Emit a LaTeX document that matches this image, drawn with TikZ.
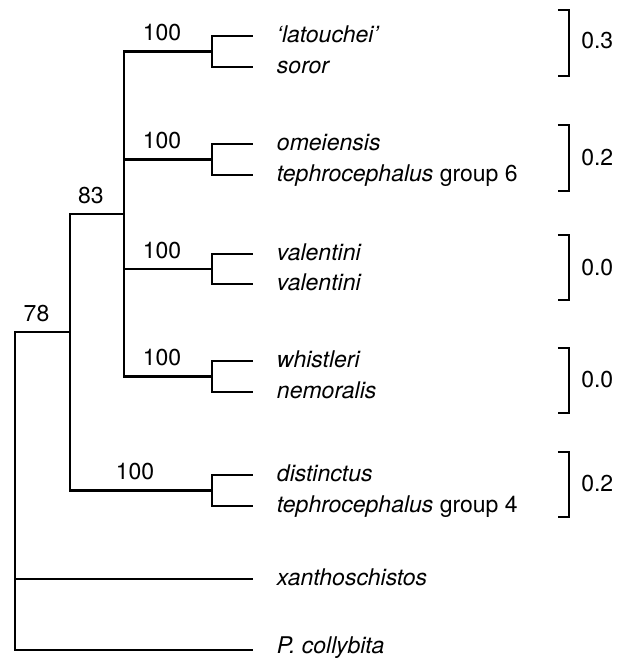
\documentclass[tikz,border=0pt]{standalone}
\usepackage{fontspec}
\setmainfont{TeX Gyre Heros}
\usepackage{tikz}
\usetikzlibrary{positioning}

\begin{document}
\begin{tikzpicture}[
    x=0.5pt, y=-0.5pt,
    every node/.style={font=\fontsize{11.5}{13}\selectfont},
    branch/.style={line width=1.3pt},
    taxon/.style={anchor=west, inner xsep=12pt, inner ysep=0pt, outer sep=0pt,
                  text height=6pt, text depth=0pt},
    support/.style={above=1.5pt, inner sep=3pt, xshift=-3pt},
    bracket/.style={line width=1.3pt},
    dist/.style={right=2pt, inner sep=3.5pt},
]
\useasboundingbox (0,0) rectangle (624,661);

% --- Taxa (tips) ---
\node[taxon] (lat) at (253,36)  {\textit{‘latouchei’}};
\node[taxon] (sor) at (253,67)  {\textit{soror}};
\node[taxon] (ome) at (253,144) {\textit{omeiensis}};
\node[taxon] (te6) at (253,175) {\textit{tephrocephalus} group 6};
\node[taxon] (va1) at (253,254) {\textit{valentini}};
\node[taxon] (va2) at (253,284) {\textit{valentini}};
\node[taxon] (whi) at (253,361) {\textit{whistleri}};
\node[taxon] (nem) at (253,392) {\textit{nemoralis}};
\node[taxon] (dis) at (253,475) {\textit{distinctus}};
\node[taxon] (te4) at (253,506) {\textit{tephrocephalus} group 4};
\node[taxon] (xan) at (253,579) {\textit{xanthoschistos}};
\node[taxon, text height=3.5pt] (col) at (253,650) {\textit{P. collybita}};

% --- Internal nodes ---
\coordinate (c1) at (212,51.5);
\coordinate (c2) at (212,159.5);
\coordinate (c3) at (212,269);
\coordinate (c4) at (212,376.5);
\coordinate (c5) at (212,490.5);
\coordinate (n83) at (124,214);
\coordinate (n78) at (70,332);
\coordinate (root) at (15,492);

% --- Branches ---
\draw[branch] (c1) |- (lat.west);
\draw[branch] (c1) |- (sor.west);
\draw[branch] (c2) |- (ome.west);
\draw[branch] (c2) |- (te6.west);
\draw[branch] (c3) |- (va1.west);
\draw[branch] (c3) |- (va2.west);
\draw[branch] (c4) |- (whi.west);
\draw[branch] (c4) |- (nem.west);
\draw[branch] (c5) |- (dis.west);
\draw[branch] (c5) |- (te4.west);

\draw[branch] (n83) |- (c1) node[pos=0.75, support] {100};
\draw[branch] (n83) |- (c2) node[pos=0.75, support] {100};
\draw[branch] (n83) |- (c3) node[pos=0.75, support] {100};
\draw[branch] (n83) |- (c4) node[pos=0.75, support] {100};

\draw[branch] (n78) |- (n83) node[pos=0.75, support] {83};
\draw[branch] (n78) |- (c5)  node[pos=0.75, support] {100};

\draw[branch] (root) |- (n78) node[pos=0.75, support] {78};
\draw[branch] (root) |- (xan.west);
\draw[branch] (root) |- (col.west);

% --- Distance brackets ---
\draw[bracket] (558,10)  -- (569,10)  -- (569,76)  -- (558,76)  node[dist] (d1) at (569,41)  {0.3};
\draw[bracket] (558,125) -- (569,125) -- (569,191) -- (558,191) node[dist] (d2) at (569,158) {0.2};
\draw[bracket] (558,235) -- (569,235) -- (569,300) -- (558,300) node[dist] (d3) at (569,268) {0.0};
\draw[bracket] (558,348) -- (569,348) -- (569,413) -- (558,413) node[dist] (d4) at (569,380) {0.0};
\draw[bracket] (558,452) -- (569,452) -- (569,517) -- (558,517) node[dist] (d5) at (569,484) {0.2};
\end{tikzpicture}
\end{document}
